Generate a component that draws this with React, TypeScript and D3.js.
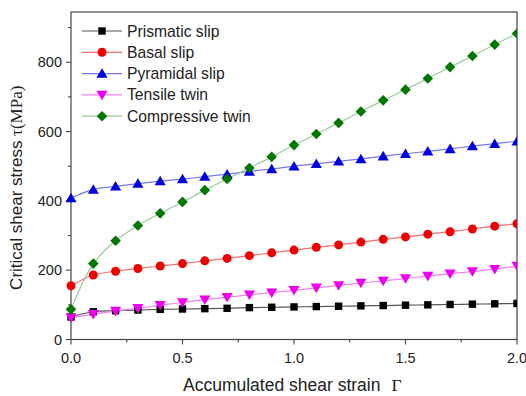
import React from "react";
import * as d3 from "d3";

const strain = [0, 0.1, 0.2, 0.3, 0.4, 0.5, 0.6, 0.7, 0.8, 0.9, 1.0, 1.1, 1.2, 1.3, 1.4, 1.5, 1.6, 1.7, 1.8, 1.9, 2.0];
const prismatic = [65, 80, 83, 85, 87, 88, 89, 90, 92, 93, 94, 95, 96, 97, 98, 99, 100, 101, 102, 103, 104];
const basal = [155, 186, 197, 205, 212, 219, 227, 234, 242, 250, 258, 266, 273, 281, 289, 296, 304, 311, 319, 327, 334];
const pyramidal = [408, 433, 442, 450, 457, 463, 470, 477, 485, 492, 500, 507, 514, 521, 529, 536, 543, 550, 558, 565, 572];
const tensile = [63, 73, 82, 90, 99, 107, 115, 122, 129, 135, 142, 149, 156, 163, 169, 176, 183, 190, 196, 203, 212];
const compressive = [87, 219, 285, 329, 364, 397, 431, 463, 495, 527, 561, 593, 625, 658, 690, 721, 753, 786, 818, 851, 883];

const seriesNames = ["Prismatic slip", "Basal slip", "Pyramidal slip", "Tensile twin", "Compressive twin"];
const xTicks = [0, 0.5, 1.0, 1.5, 2.0];
const yTicks = [0, 200, 400, 600, 800];

const series = [
  { name: seriesNames[0], values: prismatic, marker: "square", fill: "#000000", line: "#555555" },
  { name: seriesNames[1], values: basal, marker: "circle", fill: "#ee0000", line: "#f07070" },
  { name: seriesNames[2], values: pyramidal, marker: "triangle", fill: "#0000dd", line: "#7777ee" },
  { name: seriesNames[3], values: tensile, marker: "triangleDown", fill: "#ee00ee", line: "#f080f0" },
  { name: seriesNames[4], values: compressive, marker: "diamond", fill: "#007700", line: "#99cc99" },
];

const FONT = "Arial, 'Liberation Sans', sans-serif";

function Marker({ type, x, y, fill }: { type: string; x: number; y: number; fill: string }) {
  if (type === "square") return <rect x={x - 3.7} y={y - 3.7} width={7.4} height={7.4} fill={fill} />;
  if (type === "circle") return <circle cx={x} cy={y} r={4.5} fill={fill} />;
  if (type === "triangle") {
    const s = 5.3;
    return <path d={`M${x},${y - s}L${x + s * 1.05},${y + s * 0.8}L${x - s * 1.05},${y + s * 0.8}Z`} fill={fill} />;
  }
  if (type === "triangleDown") {
    const s = 5.3;
    return <path d={`M${x},${y + s}L${x + s * 1.05},${y - s * 0.8}L${x - s * 1.05},${y - s * 0.8}Z`} fill={fill} />;
  }
  const s = 5.3;
  return <path d={`M${x},${y - s}L${x + s},${y}L${x},${y + s}L${x - s},${y}Z`} fill={fill} />;
}

export default function App() {
  const W = 526, H = 396;
  const left = 71, right = 517, top = 12, bottom = 339.5;
  const x = d3.scaleLinear().domain([0, 2]).range([left, right]);
  const y = d3.scaleLinear().domain([0, 945]).range([bottom, top]);
  const line = d3.line<number>().x((_, i) => x(strain[i])).y((d) => y(d)).curve(d3.curveCatmullRom.alpha(0.5));
  const xMinor = d3.range(0, 2.001, 0.25);
  const yMinor = d3.range(0, 901, 100);
  const legendX = 82, legendY0 = 31, legendDy = 21.3;

  return (
    <svg width={W} height={H} style={{ position: "absolute", left: 0, top: 0, background: "#fff" }}>
      <rect x={0} y={0} width={W} height={H} fill="#ffffff" />
      <defs>
        <clipPath id="plotclip">
          <rect x={left - 6} y={top} width={right - left + 6} height={bottom - top + 6} />
        </clipPath>
      </defs>
      {/* frame */}
      <rect x={left} y={top} width={right - left} height={bottom - top} fill="none" stroke="#444" strokeWidth={1.2} />
      {/* ticks */}
      {xMinor.map((t) => (
        <line key={"xm" + t} x1={x(t)} x2={x(t)} y1={bottom} y2={bottom + (Math.abs(t * 2 - Math.round(t * 2)) < 1e-6 ? 5 : 3)} stroke="#444" strokeWidth={1.1} />
      ))}
      {yMinor.map((t) => (
        <line key={"ym" + t} x1={left} x2={left - (t % 200 === 0 ? 5 : 3)} y1={y(t)} y2={y(t)} stroke="#444" strokeWidth={1.1} />
      ))}
      {xTicks.map((t) => (
        <text key={"xt" + t} x={x(t)} y={363} textAnchor="middle" fontFamily={FONT} fontSize={14.5} fill="#222">
          {t.toFixed(1)}
        </text>
      ))}
      {yTicks.map((t) => (
        <text key={"yt" + t} x={left - 9} y={y(t) + 5} textAnchor="end" fontFamily={FONT} fontSize={14.5} fill="#222">
          {t}
        </text>
      ))}
      {/* axis labels */}
      <text x={183} y={391} fontFamily={FONT} fontSize={17.5} fill="#222">
        Accumulated shear strain
        <tspan fontFamily="'Liberation Serif', 'DejaVu Serif', serif" dx={11}>Γ</tspan>
      </text>
      <text transform={`translate(22,${(top + bottom) / 2 + 12}) rotate(-90)`} textAnchor="middle" fontFamily={FONT} fontSize={17} fill="#222">
        Critical shear stress <tspan fontFamily="'Liberation Serif', serif">τ(MPa)</tspan>
      </text>
      {/* series */}
      <g clipPath="url(#plotclip)">
        {series.map((s) => (
          <path key={s.name + "l"} d={line(s.values) || ""} fill="none" stroke={s.line} strokeWidth={1.2} />
        ))}
        {series.map((s) => (
          <g key={s.name + "m"}>
            {s.values.map((v, i) => (
              <Marker key={i} type={s.marker} x={x(strain[i])} y={y(v)} fill={s.fill} />
            ))}
          </g>
        ))}
      </g>
      {/* legend */}
      {series.map((s, i) => {
        const ly = legendY0 + i * legendDy;
        return (
          <g key={s.name + "leg"}>
            <line x1={legendX} x2={legendX + 40} y1={ly} y2={ly} stroke={s.line} strokeWidth={1.2} />
            <Marker type={s.marker} x={legendX + 20} y={ly} fill={s.fill} />
            <text x={legendX + 45} y={ly + 5.5} fontFamily={FONT} fontSize={15.7} fill="#222">
              {s.name}
            </text>
          </g>
        );
      })}
    </svg>
  );
}
